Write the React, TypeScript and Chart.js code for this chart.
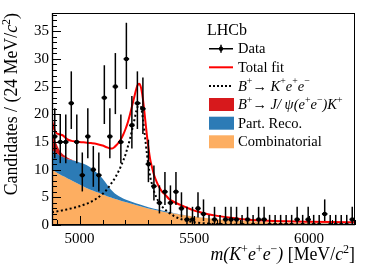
import React, { useEffect, useRef } from 'react';
import { Chart, registerables } from 'chart.js';

Chart.register(...registerables);

// ---------------- data ----------------
const binWidth = 24;
const binCenters = [
  4892, 4916, 4940, 4964, 4988, 5012, 5036, 5060, 5084, 5108, 5132, 5156, 5180, 5204, 5228,
  5252, 5276, 5300, 5324, 5348, 5372, 5396, 5420, 5444, 5468, 5492, 5516, 5540, 5564, 5588,
  5612, 5636, 5660, 5684, 5708, 5732, 5756, 5780, 5804, 5828, 5852, 5876, 5900, 5924, 5948,
  5972, 5996, 6020, 6044, 6068, 6092, 6116, 6140, 6164, 6188,
];
const counts = [
  16, 15, 15, 22, 15, 9, 16, 10, 9, 23, 16, 25, 15, 30, 18, 22, 21, 11, 7, 4, 6, 4, 6, 3, 1,
  1, 3, 2, 0, 1, 0, 1, 1, 1, 0, 1, 0, 1, 1, 0, 0, 0, 0, 0, 1, 0, 1, 0, 0, 2, 0, 0, 0, 0, 1,
];

// stacked background components (thicknesses) on a common mass grid
const areaGrid = [
  4880, 4890, 4900, 4910, 4920, 4935, 4950, 4970, 5000, 5030, 5060, 5080, 5100, 5115, 5130,
  5145, 5160, 5180, 5200, 5230, 5260, 5300, 5350, 5400, 5450, 5500, 5600, 5700, 5800, 5900,
  6000, 6100, 6200,
];
const combinatorial = [
  10.0, 9.75, 9.5, 9.25, 9.0, 8.7, 8.35, 7.95, 7.3, 6.7, 6.2, 5.85, 5.5, 5.3, 5.05,
  4.85, 4.65, 4.4, 4.15, 3.8, 3.45, 3.0, 2.55, 2.15, 1.8, 1.5, 1.05, 0.75, 0.55, 0.42,
  0.32, 0.24, 0.18,
];
const partReco = [
  3.6, 3.5, 3.45, 3.4, 3.4, 3.45, 3.55, 3.75, 4.0, 4.15, 3.8, 3.4, 2.9, 2.3, 1.7,
  1.2, 0.85, 0.6, 0.45, 0.35, 0.28, 0.2, 0.14, 0.09, 0.05, 0.03, 0.01, 0, 0, 0,
  0, 0, 0,
];
const jpsiLeak = [
  3.0, 2.4, 1.7, 1.1, 0.7, 0.4, 0.2, 0.05, 0, 0, 0, 0, 0, 0, 0,
  0, 0, 0, 0, 0, 0, 0, 0, 0, 0, 0, 0, 0, 0, 0,
  0, 0, 0,
];

// fit curves
const fitGrid = [
  4880, 4884, 4888, 4893, 4900, 4910, 4920, 4930, 4940, 4950, 4965, 4980, 5000, 5025, 5050,
  5075, 5100, 5115, 5130, 5140, 5150, 5160, 5170, 5180, 5190, 5200, 5210, 5220, 5230, 5240,
  5248, 5255, 5260, 5265, 5270, 5276, 5282, 5288, 5294, 5300, 5308, 5316, 5325, 5335, 5345,
  5360, 5375, 5390, 5410, 5430, 5450, 5475, 5500, 5530, 5560, 5600, 5650, 5700, 5750, 5800,
  5900, 6000, 6100, 6200,
];
const totalFit = [
  19.0, 18.2, 17.5, 17.0, 16.6, 16.4, 16.3, 16.1, 15.7, 15.4, 15.2, 15.1, 15.0, 14.9, 14.8,
  14.65, 14.35, 14.1, 13.85, 13.8, 14.0, 14.4, 14.9, 15.5, 16.3, 17.3, 18.5, 20.0, 21.7, 23.4,
  24.7, 25.4, 25.5, 25.2, 24.4, 22.8, 20.6, 18.3, 16.0, 14.0, 11.8, 10.4, 9.0, 7.9, 7.0,
  6.0, 5.4, 4.7, 4.2, 3.8, 3.45, 3.0, 2.6, 2.25, 1.95, 1.65, 1.35, 1.1, 0.92, 0.8,
  0.66, 0.58, 0.52, 0.48,
];
const signalKee = [
  2.3, 2.33, 2.36, 2.4, 2.45, 2.52, 2.6, 2.68, 2.77, 2.86, 3.0, 3.15, 3.4, 3.75, 4.2,
  4.8, 5.6, 6.2, 7.0, 7.6, 8.2, 8.9, 9.7, 10.6, 11.6, 12.7, 14.1, 15.6, 17.4, 19.2,
  20.7, 21.6, 22.0, 21.8, 20.9, 19.2, 17.1, 14.9, 12.7, 10.8, 8.7, 7.3, 6.0, 5.0, 4.2,
  3.3, 2.7, 2.2, 1.65, 1.25, 0.95, 0.7, 0.5, 0.35, 0.25, 0.16, 0.09, 0.05, 0.03, 0.02,
  0.01, 0, 0, 0,
];

const xMin = 4880;
const xMax = 6200;
const yMin = 0;
const yMax = 38.3;
const xLabelTicks = [5000, 5500, 6000];

// ---------------- helpers ----------------
const FAM = '"Liberation Serif", "Times New Roman", "DejaVu Serif", serif';

function poissonInterval(n: number): [number, number] {
  const hi = (n + 1) * Math.pow(1 - 1 / (9 * (n + 1)) + 1 / (3 * Math.sqrt(n + 1)), 3);
  const lo = n === 0 ? 0 : n * Math.pow(1 - 1 / (9 * n) - 1 / (3 * Math.sqrt(n)), 3);
  return [lo, hi];
}

type Seg = { t: string; it?: boolean; sup?: boolean };

function drawRich(ctx: CanvasRenderingContext2D, segs: Seg[], x: number, y: number, size: number, align: 'left' | 'right' = 'left') {
  const fontOf = (s: Seg) => `${s.it ? 'italic ' : ''}${s.sup ? size * 0.68 : size}px ${FAM}`;
  let w = 0;
  for (const s of segs) {
    ctx.font = fontOf(s);
    w += ctx.measureText(s.t).width;
  }
  let cx = align === 'right' ? x - w : x;
  ctx.textAlign = 'left';
  ctx.textBaseline = 'alphabetic';
  for (const s of segs) {
    ctx.font = fontOf(s);
    ctx.fillText(s.t, cx, s.sup ? y - size * 0.42 : y);
    cx += ctx.measureText(s.t).width;
  }
  return w;
}

const errorBarPlugin = {
  id: 'errorBars',
  beforeDatasetDraw(chart: any, args: any) {
    if (args.index !== 0) return;
    const { ctx, chartArea: a } = chart;
    const xs = chart.scales.x;
    const ys = chart.scales.y;
    ctx.save();
    ctx.beginPath();
    ctx.rect(a.left, a.top, a.right - a.left, a.bottom - a.top);
    ctx.clip();
    ctx.strokeStyle = '#000';
    binCenters.forEach((c, i) => {
      const n = counts[i];
      const [lo, hi] = poissonInterval(n);
      const px = xs.getPixelForValue(c);
      ctx.lineWidth = 1.5;
      ctx.beginPath();
      ctx.moveTo(px, ys.getPixelForValue(lo));
      ctx.lineTo(px, ys.getPixelForValue(hi));
      ctx.stroke();
      ctx.lineWidth = 1.8;
      ctx.beginPath();
      ctx.moveTo(xs.getPixelForValue(c - binWidth / 2), ys.getPixelForValue(n));
      ctx.lineTo(xs.getPixelForValue(c + binWidth / 2), ys.getPixelForValue(n));
      ctx.stroke();
    });
    ctx.restore();
  },
};

const decorPlugin = {
  id: 'decor',
  afterDraw(chart: any) {
    const { ctx, chartArea: a } = chart;
    const xs = chart.scales.x;
    const ys = chart.scales.y;
    ctx.save();
    // frame
    ctx.strokeStyle = '#000';
    ctx.lineWidth = 1;
    ctx.strokeRect(a.left + 0.5, a.top + 0.5, a.right - a.left - 1, a.bottom - a.top - 1);
    ctx.lineWidth = 1.3;
    ctx.beginPath();
    ctx.moveTo(a.left + 0.5, a.top);
    ctx.lineTo(a.left + 0.5, a.bottom);
    ctx.lineTo(a.right, a.bottom - 0.5);
    ctx.stroke();
    // y ticks (inward)
    ctx.lineWidth = 1;
    ctx.beginPath();
    for (let v = 0; v <= 38; v += 1) {
      const py = Math.round(ys.getPixelForValue(v)) + 0.5;
      const len = v % 5 === 0 ? 9 : 5;
      ctx.moveTo(a.left, py);
      ctx.lineTo(a.left + len, py);
    }
    // x ticks (inward)
    for (let v = 4900; v <= 6200; v += 100) {
      const px = Math.round(xs.getPixelForValue(v)) + 0.5;
      const len = v % 500 === 0 ? 9 : 5;
      ctx.moveTo(px, a.bottom);
      ctx.lineTo(px, a.bottom - len);
    }
    ctx.stroke();

    ctx.fillStyle = '#000';
    // x title
    drawRich(ctx, [
      { t: 'm(K', it: true }, { t: '+', sup: true }, { t: 'e', it: true }, { t: '+', sup: true },
      { t: 'e', it: true }, { t: '\u2212', sup: true }, { t: ')', it: true }, { t: ' [MeV/' },
      { t: 'c', it: true }, { t: '2', sup: true }, { t: ']' },
    ], a.right, 260, 17.8, 'right');
    // y title
    ctx.save();
    ctx.translate(17, a.top);
    ctx.rotate(-Math.PI / 2);
    drawRich(ctx, [
      { t: 'Candidates / (24 MeV/' }, { t: 'c', it: true }, { t: '2', sup: true }, { t: ')' },
    ], 0, 0, 17.8, 'right');
    ctx.restore();

    // legend
    ctx.font = `16px ${FAM}`;
    ctx.textAlign = 'left';
    ctx.textBaseline = 'alphabetic';
    ctx.fillText('LHCb', 207, 35);
    const sx0 = 209;
    const sx1 = 233;
    const tx = 238;
    const rows = [48.7, 67.3, 86, 104.5, 123.2, 141.8];
    const fs = 14.5;
    // Data
    ctx.strokeStyle = '#000';
    ctx.lineWidth = 1.5;
    ctx.beginPath();
    ctx.moveTo(sx0, rows[0]);
    ctx.lineTo(sx1, rows[0]);
    ctx.moveTo((sx0 + sx1) / 2, rows[0] - 4);
    ctx.lineTo((sx0 + sx1) / 2, rows[0] + 4);
    ctx.stroke();
    ctx.beginPath();
    ctx.arc((sx0 + sx1) / 2, rows[0], 2.2, 0, Math.PI * 2);
    ctx.fill();
    drawRich(ctx, [{ t: 'Data' }], tx, rows[0] + 4.5, fs);
    // Total fit
    ctx.strokeStyle = '#ff0000';
    ctx.lineWidth = 2;
    ctx.beginPath();
    ctx.moveTo(sx0, rows[1]);
    ctx.lineTo(sx1, rows[1]);
    ctx.stroke();
    drawRich(ctx, [{ t: 'Total fit' }], tx, rows[1] + 4.5, fs);
    // signal
    ctx.strokeStyle = '#000';
    ctx.setLineDash([2, 2]);
    ctx.beginPath();
    ctx.moveTo(sx0, rows[2]);
    ctx.lineTo(sx1, rows[2]);
    ctx.stroke();
    ctx.setLineDash([]);
    drawRich(ctx, [
      { t: 'B', it: true }, { t: '+', sup: true }, { t: '\u2192 ' }, { t: 'K', it: true }, { t: '+', sup: true },
      { t: 'e', it: true }, { t: '+', sup: true }, { t: 'e', it: true }, { t: '\u2212', sup: true },
    ], tx, rows[2] + 4.5, fs);
    // boxes
    const boxes: [string, number][] = [['#d7191c', rows[3]], ['#2c7bb6', rows[4]], ['#fdae61', rows[5]]];
    for (const [col, r] of boxes) {
      ctx.fillStyle = col;
      ctx.fillRect(sx0, r - 6.5, sx1 - sx0 + 1, 13);
    }
    ctx.fillStyle = '#000';
    drawRich(ctx, [
      { t: 'B', it: true }, { t: '+', sup: true }, { t: '\u2192 ' }, { t: 'J/ \u03c8(e', it: true }, { t: '+', sup: true },
      { t: 'e', it: true }, { t: '\u2212', sup: true }, { t: ')K', it: true }, { t: '+', sup: true },
    ], tx, rows[3] + 4.5, fs);
    drawRich(ctx, [{ t: 'Part. Reco.' }], tx, rows[4] + 4.5, fs);
    drawRich(ctx, [{ t: 'Combinatorial' }], tx, rows[5] + 4.5, fs);
    ctx.restore();
  },
};

export default function App() {
  const ref = useRef<HTMLCanvasElement | null>(null);
  useEffect(() => {
    if (!ref.current) return;
    const combTop = areaGrid.map((x, i) => ({ x, y: combinatorial[i] }));
    const recoTop = areaGrid.map((x, i) => ({ x, y: combinatorial[i] + partReco[i] }));
    const jpsiTop = areaGrid.map((x, i) => ({ x, y: combinatorial[i] + partReco[i] + jpsiLeak[i] }));
    const lineBase = { pointRadius: 0, pointHoverRadius: 0, cubicInterpolationMode: 'monotone' as const };
    const chart = new Chart(ref.current, {
      type: 'line',
      data: {
        datasets: [
          {
            label: 'Data',
            data: binCenters.map((x, i) => ({ x, y: counts[i] })),
            showLine: false,
            pointRadius: 2.3,
            pointHoverRadius: 2.3,
            pointBackgroundColor: '#000',
            pointBorderWidth: 0,
            borderColor: '#000',
          },
          {
            label: 'Total fit',
            data: fitGrid.map((x, i) => ({ x, y: totalFit[i] })),
            borderColor: '#ff0000',
            borderWidth: 2,
            fill: false,
            ...lineBase,
          },
          {
            label: 'Kee',
            data: fitGrid.map((x, i) => ({ x, y: signalKee[i] })),
            borderColor: '#000',
            borderWidth: 2,
            borderDash: [2, 2.5],
            fill: false,
            ...lineBase,
          },
          {
            label: 'Jpsi',
            data: jpsiTop,
            borderWidth: 0,
            borderColor: 'rgba(0,0,0,0)',
            backgroundColor: '#d7191c',
            fill: 4,
            ...lineBase,
          },
          {
            label: 'Part. Reco.',
            data: recoTop,
            borderWidth: 0,
            borderColor: 'rgba(0,0,0,0)',
            backgroundColor: '#2c7bb6',
            fill: 5,
            ...lineBase,
          },
          {
            label: 'Combinatorial',
            data: combTop,
            borderWidth: 0,
            borderColor: 'rgba(0,0,0,0)',
            backgroundColor: '#fdae61',
            fill: 'origin',
            ...lineBase,
          },
        ],
      },
      options: {
        responsive: false,
        animation: false,
        devicePixelRatio: 1,
        layout: { padding: { top: 13, right: 19, left: 0, bottom: 0 } },
        plugins: { legend: { display: false }, tooltip: { enabled: false } },
        events: [],
        scales: {
          x: {
            type: 'linear',
            min: xMin,
            max: xMax,
            grid: { display: false, drawTicks: false },
            border: { display: false },
            ticks: {
              stepSize: 100,
              includeBounds: false,
              autoSkip: false,
              maxRotation: 0,
              padding: 5,
              color: '#000',
              font: { family: FAM, size: 15 },
              callback: (v: any) => (xLabelTicks.includes(Number(v)) ? String(v) : ''),
            },
            afterFit: (s: any) => { s.height = 43; },
          },
          y: {
            type: 'linear',
            min: yMin,
            max: yMax,
            grid: { display: false, drawTicks: false },
            border: { display: false },
            ticks: {
              stepSize: 5,
              includeBounds: false,
              padding: 3,
              color: '#000',
              font: { family: FAM, size: 15 },
            },
            afterFit: (s: any) => { s.width = 52; },
          },
        },
      },
      plugins: [errorBarPlugin, decorPlugin],
    } as any);
    return () => chart.destroy();
  }, []);
  return (
    <div style={{ position: 'fixed', left: 0, top: 0, width: 374, height: 268, background: '#fff' }}>
      <canvas ref={ref} width={374} height={268} style={{ display: 'block' }} />
    </div>
  );
}
